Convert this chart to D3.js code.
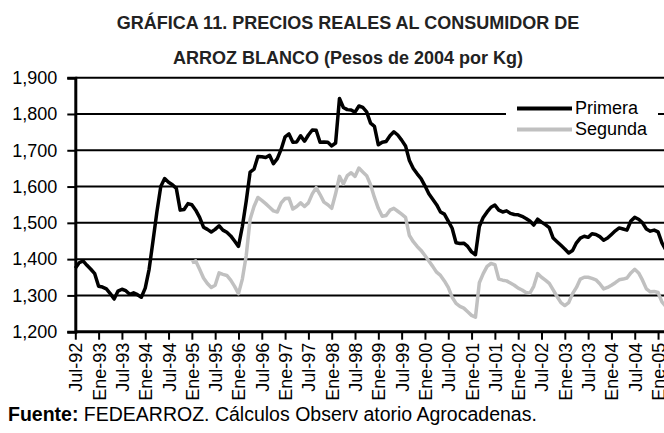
<!DOCTYPE html>
<html><head><meta charset="utf-8">
<script src="https://cdn.jsdelivr.net/npm/d3@7"></script>
<style>body{margin:0;background:#fff}svg{display:block}</style>
</head><body>
<svg id="c" width="664" height="433"></svg>
<script>
const monthNames = ["Ene","Feb","Mar","Abr","May","Jun","Jul","Ago","Sep","Oct","Nov","Dic"];
const firstMonth = "Jul-92";
const primera = [1375,1390,1395,1383,1372,1360,1325,1323,1318,1305,1290,1312,1317,1313,1303,1307,1302,1295,1320,1372,
1450,1530,1600,1622,1612,1605,1595,1535,1537,1553,1550,1535,1515,1488,1482,1475,1482,1492,1480,1474,
1464,1450,1435,1490,1560,1640,1648,1683,1682,1680,1686,1663,1677,1703,1737,1745,1722,1723,1740,1725,
1742,1756,1755,1722,1723,1722,1712,1720,1843,1818,1812,1811,1805,1822,1818,1806,1775,1766,1715,1722,
1724,1740,1751,1742,1728,1712,1672,1650,1635,1622,1602,1580,1565,1550,1530,1524,1505,1485,1445,1443,
1444,1435,1420,1412,1490,1515,1530,1543,1549,1535,1530,1533,1526,1523,1522,1518,1512,1505,1494,1510,
1502,1495,1487,1458,1448,1438,1428,1417,1424,1445,1458,1463,1460,1470,1468,1462,1452,1458,1468,1478,
1486,1483,1480,1505,1515,1510,1500,1483,1477,1480,1475,1445,1425];
const segundaStart = "Ene-95";
const segunda = [1390,1395,1372,1348,1333,1322,1328,1362,1358,1355,1342,1325,1305,1345,1410,1510,1545,1570,1562,1553,
1543,1533,1530,1555,1567,1568,1538,1545,1555,1545,1555,1580,1597,1578,1557,1550,1540,1580,1628,1607,
1630,1638,1628,1651,1640,1630,1605,1570,1540,1518,1520,1535,1540,1532,1524,1515,1465,1448,1435,1424,
1410,1395,1380,1364,1355,1340,1322,1295,1278,1270,1265,1255,1245,1240,1335,1360,1380,1388,1385,1345,
1342,1340,1334,1328,1320,1315,1308,1306,1325,1360,1350,1342,1333,1315,1297,1280,1272,1280,1305,1322,
1345,1350,1350,1347,1343,1332,1318,1322,1328,1335,1343,1345,1348,1362,1372,1362,1342,1318,1310,1311,
1308,1282,1270];
const tickLabels = ["Jul-92","Ene-93","Jul-93","Ene-94","Jul-94","Ene-95","Jul-95","Ene-96","Jul-96","Ene-97",
"Jul-97","Ene-98","Jul-98","Ene-99","Jul-99","Ene-00","Jul-00","Ene-01","Jul-01","Ene-02","Jul-02","Ene-03",
"Jul-03","Ene-04","Jul-04","Ene-05"];
const yTicks = [1200,1300,1400,1500,1600,1700,1800,1900];
const seriesNames = ["Primera","Segunda"];

// month categories
const m0 = monthNames.indexOf(firstMonth.slice(0,3)), y0 = +firstMonth.slice(4);
const categories = primera.map((d,i)=>{
  const m=(m0+i)%12, y=(y0+Math.floor((m0+i)/12))%100;
  return monthNames[m]+"-"+String(y).padStart(2,"0");
});
const segStartIdx = categories.indexOf(segundaStart);

const svg = d3.select("#c");
const font = "'Liberation Sans', Arial, sans-serif";
const nFont = "'Liberation Sans Narrow', 'Arial Narrow', sans-serif";
const x = d3.scalePoint().domain(categories).range([75.3, 75.3 + 3.885*(categories.length-1)]);
const y = d3.scaleLinear().domain([1200,1900]).range([331.7, 77.7]);
const xL = 75.3, xR = 664;

// gridlines
svg.append("g").selectAll("line").data(yTicks.slice(1)).join("line")
  .attr("x1", xL).attr("x2", xR).attr("y1", d=>y(d)).attr("y2", d=>y(d))
  .attr("stroke","#000").attr("stroke-width",2);

// legend background box
svg.append("rect").attr("x",506).attr("y",95).attr("width",152).attr("height",44).attr("fill","#fff");

// lines
const line = d3.line().defined(d=>d.v!=null).x(d=>x(d.c)).y(d=>y(d.v));
const pData = primera.map((v,i)=>({c:categories[i], v}));
const sData = segunda.map((v,i)=>({c:categories[segStartIdx+i], v}));
svg.append("path").datum(sData).attr("d", line).attr("fill","none")
  .attr("stroke","#c0c0c0").attr("stroke-width",3.5).attr("stroke-linejoin","round");
svg.append("path").datum(pData).attr("d", line).attr("fill","none")
  .attr("stroke","#000").attr("stroke-width",3.5).attr("stroke-linejoin","round");

// axes
const yAxis = svg.append("g").attr("transform",`translate(${xL},0)`)
  .call(d3.axisLeft(y).tickValues(yTicks).tickFormat(d3.format(",")).tickSize(8).tickPadding(10));
yAxis.select(".domain").attr("stroke","#000").attr("stroke-width",3);
yAxis.selectAll(".tick line").attr("stroke","#000").attr("stroke-width",2);
yAxis.selectAll("text").attr("font-family",font).attr("font-size",18).attr("fill","#000");

const xAxis = svg.append("g").attr("transform",`translate(0,${y(1200)})`)
  .call(d3.axisBottom(x).tickValues(tickLabels).tickSize(8).tickSizeOuter(0));
xAxis.select(".domain").attr("stroke","#000").attr("stroke-width",3)
  .attr("d", `M${xL},0H${xR}`);
xAxis.selectAll(".tick line").attr("stroke","#000").attr("stroke-width",2);
xAxis.selectAll("text").attr("font-family",nFont).attr("font-size",18).attr("fill","#000")
  .attr("transform","rotate(-90)").attr("text-anchor","end")
  .attr("x",-11).attr("y",0).attr("dy","0.36em");

// legend
const leg = svg.append("g");
const legY = [108.5, 129.5], legColors = ["#000","#c0c0c0"];
seriesNames.forEach((n,i)=>{
  leg.append("line").attr("x1",517).attr("x2",572).attr("y1",legY[i]).attr("y2",legY[i])
    .attr("stroke",legColors[i]).attr("stroke-width",4);
  leg.append("text").attr("x",575).attr("y",legY[i]+5.5).attr("font-family",font)
    .attr("font-size",18).attr("fill","#000").text(n);
});

// title
svg.append("text").attr("x",348).attr("y",28.5).attr("text-anchor","middle")
  .attr("font-family",nFont).attr("font-weight","bold").attr("font-size",18).attr("fill","#222")
  .text("GRÁFICA 11. PRECIOS REALES AL CONSUMIDOR DE");
svg.append("text").attr("x",348).attr("y",64).attr("text-anchor","middle")
  .attr("font-family",nFont).attr("font-weight","bold").attr("font-size",18).attr("fill","#222")
  .text("ARROZ BLANCO (Pesos de 2004 por Kg)");

// source
const src = svg.append("text").attr("x",8).attr("y",421).attr("font-family",font).attr("font-size",19.5).attr("fill","#000");
src.append("tspan").attr("font-weight","bold").text("Fuente:");
src.append("tspan").text(" FEDEARROZ. Cálculos Observ atorio Agrocadenas.");
</script>
</body></html>
